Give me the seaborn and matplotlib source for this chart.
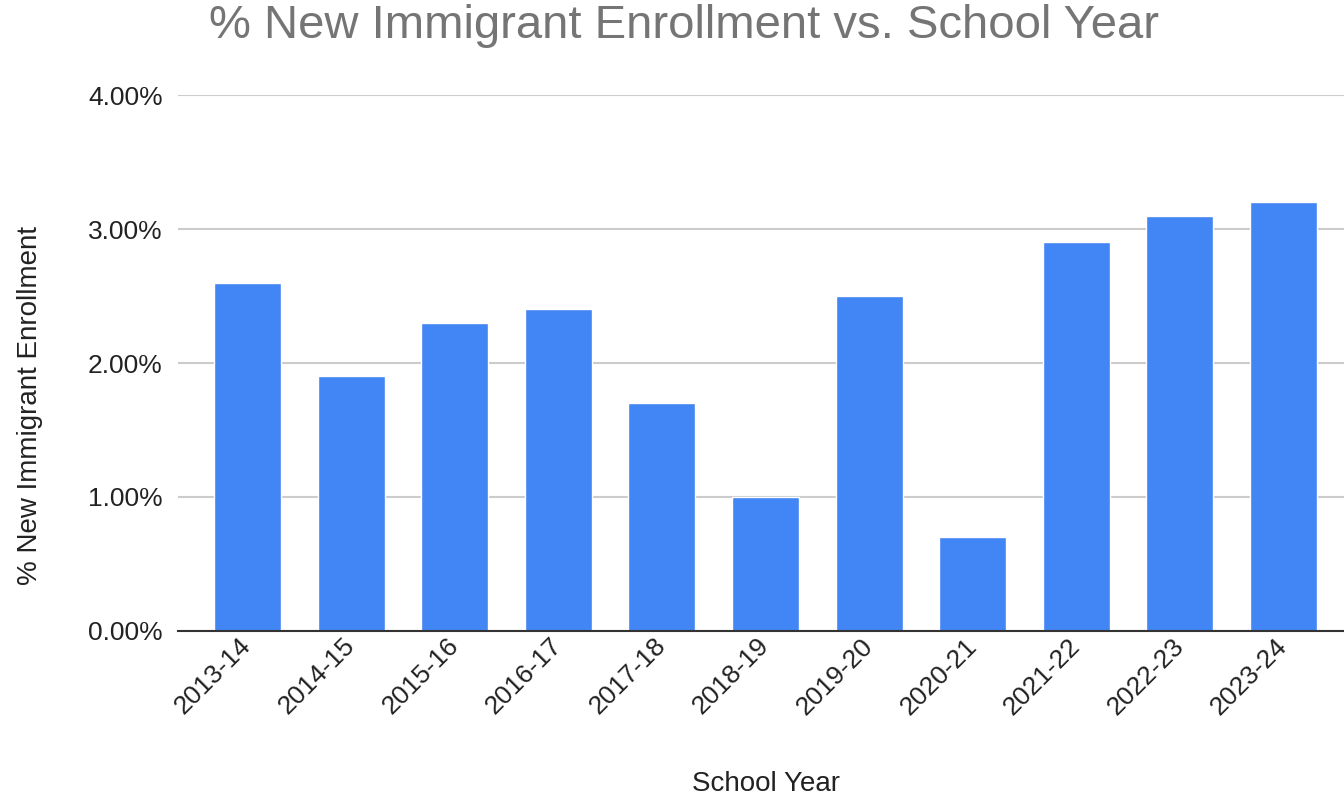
import matplotlib
matplotlib.use("Agg")
import matplotlib.pyplot as plt
import seaborn as sns
import pandas as pd
from matplotlib.ticker import FuncFormatter

years = ["2013-14", "2014-15", "2015-16", "2016-17", "2017-18", "2018-19",
         "2019-20", "2020-21", "2021-22", "2022-23", "2023-24"]
pct_new = [2.6, 1.9, 2.3, 2.4, 1.7, 1.0, 2.5, 0.7, 2.9, 3.1, 3.2]
y_ticks = [0, 1, 2, 3, 4]

df = pd.DataFrame({"year": years, "pct": pct_new})

sns.set_style("white")
plt.rcParams["font.family"] = ["Liberation Sans", "DejaVu Sans"]

fig = plt.figure(figsize=(13.44, 7.99), dpi=100)
ax = fig.add_axes([0.1324, 0.2103, 0.8676, 0.6707])

sns.barplot(data=df, x="year", y="pct", color="#4285F4", saturation=1,
            width=0.647, ax=ax, zorder=3)

ax.set_xlim(-0.671, 10.584)
ax.set_ylim(0, 4)
ax.set_yticks(y_ticks)
ax.yaxis.set_major_formatter(FuncFormatter(lambda v, p: f"{v:.2f}%"))
ax.grid(axis="y", color="#cccccc", linewidth=1.5, zorder=0)
for s in ["top", "right", "left"]:
    ax.spines[s].set_visible(False)
ax.spines["bottom"].set_color("#333333")
ax.spines["bottom"].set_linewidth(1.5)
ax.spines["bottom"].set_zorder(4)

ax.tick_params(axis="y", length=0, pad=11, labelsize=19, labelcolor="#222222")
ax.tick_params(axis="x", length=0, pad=8, labelsize=19, labelcolor="#222222")
for lbl in ax.get_xticklabels():
    lbl.set_rotation(45)
    lbl.set_ha("right")
    lbl.set_va("center")
    lbl.set_rotation_mode("anchor")

ax.set_xlabel("")
ax.set_ylabel("")
fig.text(0.570, 0.003, "School Year", ha="center", va="bottom",
         fontsize=20, color="#222222")
fig.text(0.022, 0.493, "% New Immigrant Enrollment", rotation=90,
         ha="center", va="center", fontsize=20, color="#222222")
fig.text(0.509, 0.968, "% New Immigrant Enrollment vs. School Year",
         ha="center", va="center", fontsize=34, color="#757575")

fig.savefig("out.png", dpi=100)
